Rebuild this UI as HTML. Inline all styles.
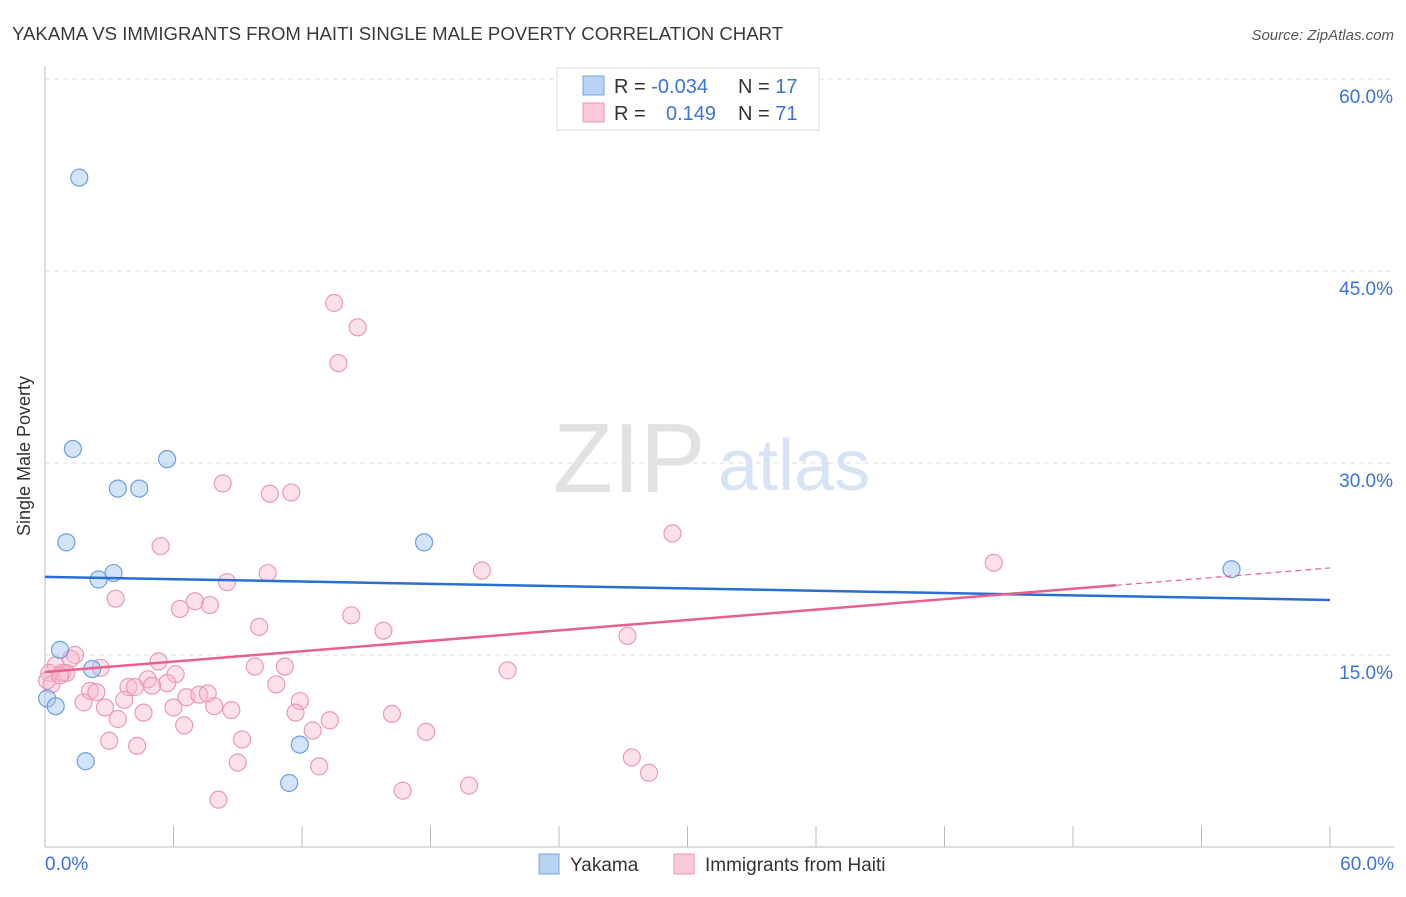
<!DOCTYPE html>
<html><head><meta charset="utf-8"><style>
body{margin:0;background:#fff;font-family:"Liberation Sans",sans-serif;}
svg text{font-family:"Liberation Sans",sans-serif;}
</style></head><body>
<svg id="chart" width="1406" height="892">
<text x="12" y="40" font-size="18.6" fill="#3a3a3a">YAKAMA VS IMMIGRANTS FROM HAITI SINGLE MALE POVERTY CORRELATION CHART</text>
<text x="1394" y="40" font-size="15" fill="#555" font-style="italic" text-anchor="end">Source: ZipAtlas.com</text>
<g id="grid"></g>
<line x1="45" y1="66" x2="45" y2="847" stroke="#bbb"/>
<line x1="45" y1="847" x2="1394" y2="847" stroke="#bbb"/>
<text x="30" y="456" font-size="18" fill="#333" text-anchor="middle" transform="rotate(-90 30 456)">Single Male Poverty</text>
<text x="553" y="492" font-size="98" fill="#e2e2e2" font-family="Liberation Serif">ZIP</text>
<text x="718" y="490" font-size="72" fill="#d6e4f5">atlas</text>
<g id="marks"></g>
<g>
<rect x="557" y="68" width="262" height="62" fill="#fff" stroke="#ddd"/>
<rect x="583" y="76" width="21" height="19" fill="#b9d2f3" stroke="#7aa6e0"/>
<rect x="583" y="103" width="21" height="19" fill="#fac8d7" stroke="#eb9bb5"/>
<text x="614" y="93" font-size="20" fill="#333">R = <tspan fill="#3b73d6">-0.034</tspan></text>
<text x="738" y="93" font-size="20" fill="#333">N = <tspan fill="#3b73d6">17</tspan></text>
<text x="614" y="120" font-size="20" fill="#333">R = </text>
<text x="666" y="120" font-size="20" fill="#3b73d6">0.149</text>
<text x="738" y="120" font-size="20" fill="#333">N = <tspan fill="#3b73d6">71</tspan></text>
</g>
<g>
<rect x="539" y="854" width="20" height="20" fill="#b9d2f3" stroke="#7aa6e0"/>
<text x="570" y="871" font-size="19" fill="#333">Yakama</text>
<rect x="674" y="854" width="20" height="20" fill="#fac8d7" stroke="#eb9bb5"/>
<text x="705" y="871" font-size="19" fill="#333">Immigrants from Haiti</text>
</g>
</svg>
<script>
const yTicks=[15,30,45,60];
const yTickLabels=["15.0%","30.0%","45.0%","60.0%"];
const xTickLabels=["0.0%","60.0%"];
const xTickVals=[0,6,12,18,24,30,36,42,48,54,60];
const yakamaX=[1.6,1.3,5.7,3.4,4.4,1.0,17.7,2.5,3.2,55.4,0.7,2.2,0.1,0.5,11.9,1.9,11.4];
const yakamaY=[52.3,31.1,30.3,28.0,28.0,23.8,23.8,20.9,21.4,21.7,15.4,13.9,11.6,11.0,8.0,6.7,5.0];
const haitiX=[13.5,14.6,13.7,8.3,10.5,11.5,29.3,5.4,44.3,20.4,10.4,8.5,7.0,7.7,6.3,3.3,14.3,10.0,15.8,27.2,1.4,5.3,2.6,1.2,9.8,11.2,21.6,0.5,0.2,0.8,1.0,6.1,4.8,3.9,4.2,5.7,5.0,10.8,2.1,2.4,6.6,7.2,7.6,3.7,1.8,11.9,2.8,6.0,7.9,8.7,11.7,3.4,4.6,13.3,6.5,12.5,17.8,16.2,9.2,3.0,4.3,9.0,12.8,27.4,28.2,16.7,19.8,8.1,0.3,0.1,0.7];
const haitiY=[42.5,40.6,37.8,28.4,27.6,27.7,24.5,23.5,22.2,21.6,21.4,20.7,19.2,18.9,18.6,19.4,18.1,17.2,16.9,16.5,15.0,14.5,14.0,14.7,14.1,14.1,13.8,14.2,13.6,13.6,13.6,13.5,13.1,12.5,12.5,12.8,12.6,12.7,12.2,12.1,11.7,11.9,12.0,11.5,11.3,11.4,10.9,10.9,11.0,10.7,10.5,10.0,10.5,9.9,9.5,9.1,9.0,10.4,8.4,8.3,7.9,6.6,6.3,7.0,5.8,4.4,4.8,3.7,12.7,13.0,13.4];
const blueTrend=[21.1,19.3];
const pinkTrend=[13.67,21.8];
const pinkSolidEnd=50;

const X0=45,X1=1330,Y0=847,YT=79;
const xs=v=>X0+(X1-X0)*v/60;
const ys=v=>Y0-(Y0-YT)*v/60;
const NS="http://www.w3.org/2000/svg";
const grid=document.getElementById('grid'),marks=document.getElementById('marks');
function mk(tag,attrs,parent){const e=document.createElementNS(NS,tag);for(const k in attrs)e.setAttribute(k,attrs[k]);parent.appendChild(e);return e;}
yTicks.forEach((t,i)=>{
  const l=mk('line',{x1:X0,x2:1394,y1:ys(t),y2:ys(t),stroke:'#ddd','stroke-dasharray':'5,4'},grid);
  
  
  const tx=mk('text',{x:1393,y:ys(t)+24,'font-size':19,fill:'#3b73d6','text-anchor':'end'},grid);
  tx.textContent=yTickLabels[i];
  
  
});
xTickVals.forEach(v=>{
  const l=mk('line',{x1:xs(v),x2:xs(v),y1:826,y2:847,stroke:'#bbb'},grid);
  
  
});
[[0,45,'start'],[60,1394,'end']].forEach((d,i)=>{
  const tx=mk('text',{x:d[1],y:870,'font-size':19,fill:'#3b73d6','text-anchor':d[2]},grid);
  tx.textContent=xTickLabels[i];
  
  
});
haitiX.forEach((x,i)=>{
  const c=mk('circle',{cx:xs(x),cy:ys(haitiY[i]),r:8.5,fill:'rgba(248,180,200,0.4)',stroke:'#ec9ab4','stroke-width':1.2},marks);
  
  
});
yakamaX.forEach((x,i)=>{
  const c=mk('circle',{cx:xs(x),cy:ys(yakamaY[i]),r:8.5,fill:'rgba(160,195,240,0.45)',stroke:'#6d9ee0','stroke-width':1.2},marks);
  
  
});
const pAt=x=>pinkTrend[0]+(pinkTrend[1]-pinkTrend[0])*x/60;
const bl=mk('line',{x1:xs(0),y1:ys(blueTrend[0]),x2:xs(60),y2:ys(blueTrend[1]),stroke:'#2a6dd4','stroke-width':2.5},marks);


const pl=mk('line',{x1:xs(0),y1:ys(pAt(0)),x2:xs(pinkSolidEnd),y2:ys(pAt(pinkSolidEnd)),stroke:'#e8608e','stroke-width':2.5},marks);


const pd=mk('line',{x1:xs(pinkSolidEnd),y1:ys(pAt(pinkSolidEnd)),x2:xs(60),y2:ys(pAt(60)),stroke:'#e8608e','stroke-width':1.2,'stroke-dasharray':'6,4'},marks);


</script>
</body></html>
